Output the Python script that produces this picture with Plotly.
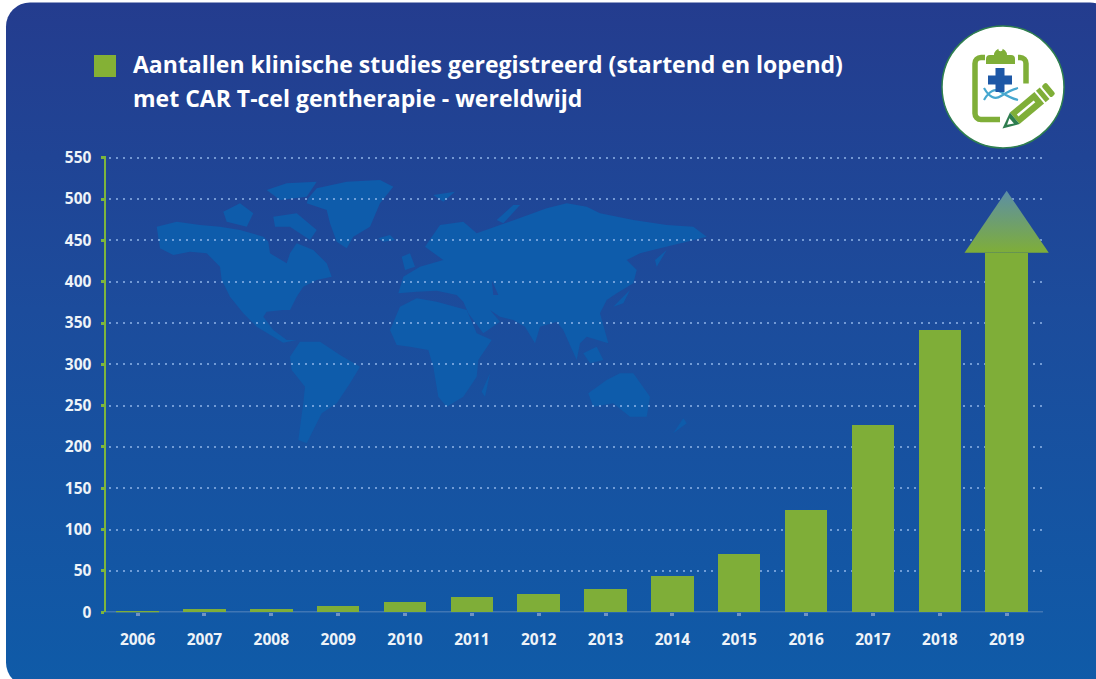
import base64
import plotly.graph_objects as go

# ---- data ----
YEARS = [2006, 2007, 2008, 2009, 2010, 2011, 2012, 2013, 2014, 2015, 2016, 2017, 2018, 2019]
COUNTS = [2, 4, 4, 8, 12, 18, 22, 28, 44, 71, 124, 226, 342, 510]
ARROW_NECK = 435          # value at which the 2019 bar turns into the arrow head
Y_TICKS = [0, 50, 100, 150, 200, 250, 300, 350, 400, 450, 500, 550]
TITLE_LINES = ["Aantallen klinische studies geregistreerd (startend en lopend)",
               "met CAR T-cel gentherapie - wereldwijd"]

# ---- page geometry ----
W, H = 1096, 679
PX0, STEP = 137.6, 66.85
PLOT_L, PLOT_R, PLOT_B = 109, 1042, 612.3
PX_PER_UNIT = (612.3 - 157.7) / 550
Y_TOP = 552
PLOT_T = PLOT_B - Y_TOP * PX_PER_UNIT
OVERLAY_R = 1070
x_of = lambda px: 2006 + (px - PX0) / STEP
GREEN = "#7fae38"
FONT = "Open Sans"

# ---- decorative background (world map, badge) in page pixels ----
def z4(pts):
    return [(x / 3 + 140, y / 3 + 170) for x, y in pts]
def z5(pts):
    return [(x / 3 + 400, y / 3 + 170) for x, y in pts]

MAP = [
    z4([(50,170),(110,155),(180,165),(240,170),(300,180),(370,200),(385,215),(390,250),(440,280),(450,250),(470,220),(520,240),(560,280),(575,320),(530,330),(490,350),(470,380),(450,420),(430,420),(380,425),(370,440),(400,480),(440,510),(470,510),(430,518),(400,500),(350,470),(310,430),(270,380),(245,330),(240,290),(200,250),(150,245),(100,255),(60,235)]),
    z4([(250,125),(300,100),(340,130),(320,170),(260,155)]),
    z4([(400,140),(470,130),(530,180),(510,210),(450,170),(405,170)]),
    z4([(380,60),(440,40),(530,35),(500,80),(420,90)]),
    z4([(505,85),(530,55),(620,35),(720,30),(760,50),(720,100),(690,170),(640,200),(620,235),(590,215),(570,160),(560,120),(500,100)]),
    z4([(715,205),(750,195),(765,210),(730,215)]),
    z4([(450,560),(480,515),(540,515),(600,555),(660,590),(630,640),(590,700),(545,730),(520,780),(500,820),(475,810),(490,700),(495,650),(455,600)]),
    z5([(-30,480),(0,410),(50,385),(110,395),(200,420),(230,490),(275,510),(235,570),(230,620),(190,680),(140,710),(115,680),(100,590),(85,540),(30,530),(-10,525)]),
    z5([(-5,370),(10,320),(60,290),(130,270),(75,230),(120,165),(190,155),(230,190),(300,165),(370,140),(440,115),(500,100),(560,110),(600,130),(700,150),(800,165),(880,170),(920,200),(860,215),(780,235),(720,250),(680,270),(710,300),(700,340),(650,370),(620,390),(600,430),(625,520),(560,500),(540,520),(530,570),(490,480),(470,455),(420,470),(405,520),(375,470),(340,450),(300,440),(270,420),(300,455),(250,490),(205,430),(190,395),(170,375),(110,362),(50,365)]),
    z5([(5,260),(30,250),(45,290),(15,300)]),
    z5([(270,610),(255,680),(245,665)]),
    z5([(565,670),(620,630),(660,610),(700,610),(750,680),(740,740),(690,740),(640,700),(580,710)]),
    z5([(850,745),(860,760),(820,790)]),
    z5([(690,360),(670,400),(640,410)]),
    z5([(800,240),(770,290),(765,270)]),
    z5([(550,550),(590,530),(610,570),(570,580)]),
    z5([(290,150),(340,105),(360,105),(310,160)]),
    z5([(100,75),(165,65),(130,95)]),
]
LAKES = [z5([(275,330),(295,375),(280,375)])]

def poly(pts, fill):
    return '<polygon points="%s" fill="%s"/>' % (" ".join(f"{x:.1f},{y:.1f}" for x, y in pts), fill)

map_svg = "".join(poly(p, "#0e5cab") for p in MAP) + "".join(poly(p, "#1f4a9b") for p in LAKES)
badge = f'''
<circle cx="1003" cy="87" r="61" fill="#ffffff" stroke="#2f7f4f" stroke-width="1.5"/>
<path d="M985 57.5 h-4 a6 6 0 0 0 -6 6 v50 a6 6 0 0 0 6 6 h19 M1018 57.5 h2 a6 6 0 0 1 6 6 v20" fill="none" stroke="{GREEN}" stroke-width="5.5"/>
<path d="M986 64 v-5 q0 -4 4 -4 h4 a6.5 6.5 0 1 1 13 0 h4 q4 0 4 4 v5 z" fill="{GREEN}"/>
<circle cx="1000.5" cy="49" r="2.2" fill="#fff"/>
<path d="M984 88 q8 14 17 8 t17 -8 M984 100 q8 -14 17 -8 t17 8" fill="none" stroke="#46a7cf" stroke-width="2.2"/>
<path d="M995.5 68 h9 v7.5 h7.5 v9 h-7.5 v7.5 h-9 v-7.5 h-7.5 v-9 h7.5 z" fill="#1d57a6"/>
<g transform="rotate(-40 1027 108)">
<rect x="1011" y="100.5" width="32" height="15" fill="{GREEN}"/>
<rect x="1045" y="100.5" width="5" height="15" fill="{GREEN}"/>
<rect x="1052" y="100.5" width="6" height="15" rx="2" fill="{GREEN}"/>
<rect x="1015" y="106.5" width="22" height="2.5" fill="#fff"/>
<path d="M1011 100.5 L995 108 L1011 115.5 z" fill="#2e7d4f"/>
<path d="M1007 104.5 L1001 108 L1007 111.5 z" fill="#fff"/>
</g>'''

svg = f'''<svg xmlns="http://www.w3.org/2000/svg" width="{W}" height="{H}" viewBox="0 0 {W} {H}">
<defs><linearGradient id="g" x1="0" y1="0" x2="0" y2="1">
<stop offset="0" stop-color="#243c8e"/><stop offset="0.45" stop-color="#1c4c9c"/><stop offset="1" stop-color="#0f5ba8"/>
</linearGradient></defs>
<rect x="6" y="2.5" width="1108" height="684" rx="24" fill="url(#g)"/>
{map_svg}{badge}</svg>'''
uri = "data:image/svg+xml;base64," + base64.b64encode(svg.encode()).decode()

# ---- figure ----
fig = go.Figure()
bar_heights = [min(v, ARROW_NECK) for v in COUNTS]
fig.add_trace(go.Bar(x=YEARS, y=bar_heights, width=0.635, marker=dict(color=GREEN, line_width=0),
                     hoverinfo="skip", showlegend=False))
head_half = 0.63
fig.add_trace(go.Scatter(
    x=[YEARS[-1] - head_half, YEARS[-1], YEARS[-1] + head_half, YEARS[-1] - head_half],
    y=[ARROW_NECK, COUNTS[-1], ARROW_NECK, ARROW_NECK],
    xaxis="x2", yaxis="y2",
    mode="lines", line=dict(width=0), fill="toself",
    fillgradient=dict(type="vertical", colorscale=[[0, GREEN], [1, "#5c8fa6"]]),
    hoverinfo="skip", showlegend=False))

tick_font = dict(family=FONT, size=15.5, color="#eef3f8", weight=700)
title_font = dict(family=FONT, size=23, color="#ffffff", weight=700)
y_domain = [1 - PLOT_B / H, 1 - PLOT_T / H]
fig.update_layout(
    width=W, height=H, autosize=False,
    margin=dict(l=0, r=0, t=0, b=0, autoexpand=False),
    paper_bgcolor="#ffffff", plot_bgcolor="rgba(0,0,0,0)",
    showlegend=False, bargap=0,
    images=[dict(source=uri, xref="paper", yref="paper", x=0, y=1, sizex=1, sizey=1,
                 xanchor="left", yanchor="top", sizing="stretch", layer="below")],
    xaxis=dict(domain=[PLOT_L / W, PLOT_R / W], range=[x_of(PLOT_L), x_of(PLOT_R)],
               tickmode="array", tickvals=YEARS, ticktext=[str(y) for y in YEARS],
               tickfont=tick_font, ticks="outside", ticklen=3, tickwidth=4, tickcolor="#6f93c4",
               showgrid=False, zeroline=False, showline=False, ticklabelstandoff=10),
    yaxis=dict(domain=y_domain, range=[0, Y_TOP], anchor="free",
               position=104.5 / W, tickmode="array", tickvals=Y_TICKS, tickfont=tick_font,
               ticks="outside", ticklen=3, tickwidth=3, tickcolor="#7db53d",
               showline=True, linecolor="#7db53d", linewidth=2,
               showgrid=True, gridcolor="rgba(156,192,240,0.68)", gridwidth=2, griddash="2px,5px",
               zeroline=False, ticklabelstandoff=6),
    # same scale as the main axes, but wider so that the arrow head is not clipped
    xaxis2=dict(domain=[PLOT_L / W, OVERLAY_R / W], range=[x_of(PLOT_L), x_of(OVERLAY_R)],
                visible=False, anchor="y2"),
    yaxis2=dict(domain=y_domain, range=[0, Y_TOP], visible=False, anchor="x2"),
    shapes=[
        dict(type="line", xref="paper", yref="y", x0=104 / W, x1=1043 / W, y0=0, y1=0,
             line=dict(color="#6f93c4", width=1.5), layer="below"),
        dict(type="rect", xref="paper", yref="paper", x0=94 / W, x1=116 / W, y0=1 - 77 / H, y1=1 - 55 / H,
             fillcolor="#84b135", line_width=0, layer="below"),
    ],
    annotations=[
        dict(text=TITLE_LINES[0], xref="paper", yref="paper", x=130.5 / W, y=1 - 64 / H, xanchor="left",
             yanchor="middle", showarrow=False, font=title_font),
        dict(text=TITLE_LINES[1], xref="paper", yref="paper", x=130.5 / W, y=1 - 98 / H, xanchor="left",
             yanchor="middle", showarrow=False, font=title_font),
    ],
)
fig.write_html("out.html", config=dict(displayModeBar=False),
               post_script="document.body.style.margin='0';")
